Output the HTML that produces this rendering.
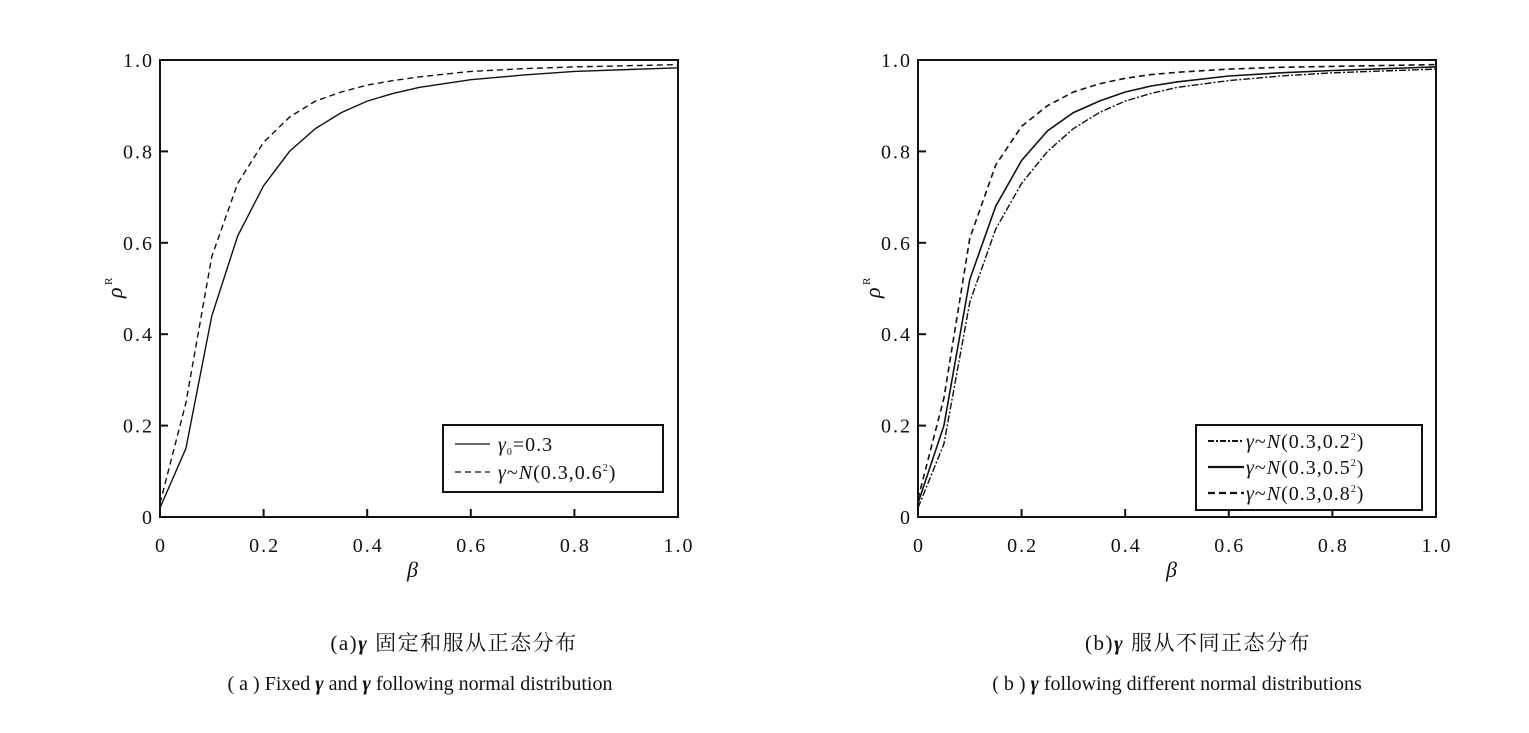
<!DOCTYPE html>
<html><head><meta charset="utf-8"><style>
body{margin:0;background:#fff;width:1529px;height:728px;overflow:hidden}
svg text{font-family:"Liberation Serif","Noto Serif CJK SC",serif;fill:#111}
</style></head><body>
<svg id="s" width="1529" height="728" xmlns="http://www.w3.org/2000/svg">
<g font-size="20">
<rect x="160" y="60" width="518" height="457" fill="none" stroke="#111" stroke-width="2"/>
<rect x="918" y="60" width="518" height="457" fill="none" stroke="#111" stroke-width="2"/>
<g id="ticks" letter-spacing="2"></g>
<text x="407" y="577" font-style="italic" font-size="22">β</text>
<text x="1166" y="577" font-style="italic" font-size="22">β</text>
<text transform="translate(122,298) rotate(-90)" font-style="italic" font-size="22">ρ</text>
<text transform="translate(112,285) rotate(-90)" font-size="11">R</text>
<text transform="translate(880,298) rotate(-90)" font-style="italic" font-size="22">ρ</text>
<text transform="translate(870,285) rotate(-90)" font-size="11">R</text>
<rect x="443" y="425" width="220" height="67" fill="#fff" stroke="#111" stroke-width="2"/>
<line x1="455" y1="444" x2="490" y2="444" stroke="#111" stroke-width="1.3"/>
<line x1="455" y1="472" x2="490" y2="472" stroke="#111" stroke-width="1.3" stroke-dasharray="6,4"/>
<text x="498" y="451" letter-spacing="1"><tspan font-style="italic">γ</tspan><tspan font-size="10" dy="4">0</tspan><tspan dy="-4">=0.3</tspan></text>
<text x="498" y="479" letter-spacing="1"><tspan font-style="italic">γ</tspan>~<tspan font-style="italic">N</tspan>(0.3,0.6<tspan font-size="10" dy="-8">2</tspan><tspan dy="8">)</tspan></text>
<rect x="1196" y="425" width="226" height="85" fill="#fff" stroke="#111" stroke-width="2"/>
<line x1="1208" y1="441" x2="1244" y2="441" stroke="#111" stroke-width="2" stroke-dasharray="6,2,2,2"/>
<line x1="1208" y1="467" x2="1244" y2="467" stroke="#111" stroke-width="2.2"/>
<line x1="1208" y1="493" x2="1244" y2="493" stroke="#111" stroke-width="2.2" stroke-dasharray="7,4"/>
<text x="1246" y="448" letter-spacing="1"><tspan font-style="italic">γ</tspan>~<tspan font-style="italic">N</tspan>(0.3,0.2<tspan font-size="10" dy="-8">2</tspan><tspan dy="8">)</tspan></text>
<text x="1246" y="474" letter-spacing="1"><tspan font-style="italic">γ</tspan>~<tspan font-style="italic">N</tspan>(0.3,0.5<tspan font-size="10" dy="-8">2</tspan><tspan dy="8">)</tspan></text>
<text x="1246" y="500" letter-spacing="1"><tspan font-style="italic">γ</tspan>~<tspan font-style="italic">N</tspan>(0.3,0.8<tspan font-size="10" dy="-8">2</tspan><tspan dy="8">)</tspan></text>
<text x="454" y="650" text-anchor="middle" font-size="21" letter-spacing="1.5">(a)<tspan font-style="italic" font-weight="bold">γ</tspan> 固定和服从正态分布</text>
<text x="420" y="690" text-anchor="middle" font-size="20">( a ) Fixed <tspan font-style="italic" font-weight="bold">γ</tspan> and <tspan font-style="italic" font-weight="bold">γ</tspan> following normal distribution</text>
<text x="1198" y="650" text-anchor="middle" font-size="21" letter-spacing="1.5">(b)<tspan font-style="italic" font-weight="bold">γ</tspan> 服从不同正态分布</text>
<text x="1177" y="690" text-anchor="middle" font-size="20">( b ) <tspan font-style="italic" font-weight="bold">γ</tspan> following different normal distributions</text>
</g>
<g id="curves" fill="none" stroke="#111"></g>
</svg>
<script>
const NS="http://www.w3.org/2000/svg";
const t=document.getElementById('ticks'),c=document.getElementById('curves');
function el(p,tag,a,txt){const e=document.createElementNS(NS,tag);for(const k in a)e.setAttribute(k,a[k]);if(txt)e.textContent=txt;p.appendChild(e);return e;}
[160,918].forEach(x0=>{
 const lab=['0','0.2','0.4','0.6','0.8','1.0'];
 for(let i=0;i<6;i++){
  const x=x0+518*i/5,y=517-457*i/5;
  if(i>0&&i<5){el(t,'line',{x1:x,y1:517,x2:x,y2:509,stroke:'#111','stroke-width':2});
   el(t,'line',{x1:x0,y1:y,x2:x0+8,y2:y,stroke:'#111','stroke-width':2});}
  el(t,'text',{x:x+1,y:552,'text-anchor':'middle'},lab[i]);
  el(t,'text',{x:x0-6,y:y+7,'text-anchor':'end'},lab[i]);
 }
});
const bx=[0,0.05,0.1,0.15,0.2,0.25,0.3,0.35,0.4,0.45,0.5,0.6,0.7,0.8,1.0];
function curve(x0,ys,attrs){
 let d='';
 ys.forEach((v,i)=>{d+=(i?'L':'M')+(x0+518*bx[i]).toFixed(1)+','+(517-457*v).toFixed(1);});
 attrs.d=d;el(c,'path',attrs);
}
curve(160,[0.02,0.15,0.44,0.615,0.725,0.8,0.85,0.885,0.91,0.927,0.94,0.957,0.967,0.975,0.983],{'stroke-width':1.4});
curve(160,[0.03,0.25,0.57,0.73,0.82,0.875,0.91,0.93,0.945,0.955,0.963,0.975,0.981,0.985,0.99],{'stroke-width':1.4,'stroke-dasharray':'6,4'});
curve(918,[0.02,0.16,0.47,0.63,0.73,0.8,0.85,0.885,0.91,0.927,0.94,0.955,0.965,0.972,0.98],{'stroke-width':1.4,'stroke-dasharray':'7,2,2,2'});
curve(918,[0.03,0.2,0.52,0.68,0.78,0.845,0.885,0.91,0.93,0.943,0.952,0.965,0.972,0.977,0.985],{'stroke-width':1.6});
curve(918,[0.04,0.26,0.61,0.77,0.855,0.9,0.93,0.948,0.96,0.968,0.973,0.98,0.984,0.986,0.99],{'stroke-width':1.6,'stroke-dasharray':'6,4'});
</script>
</body></html>
